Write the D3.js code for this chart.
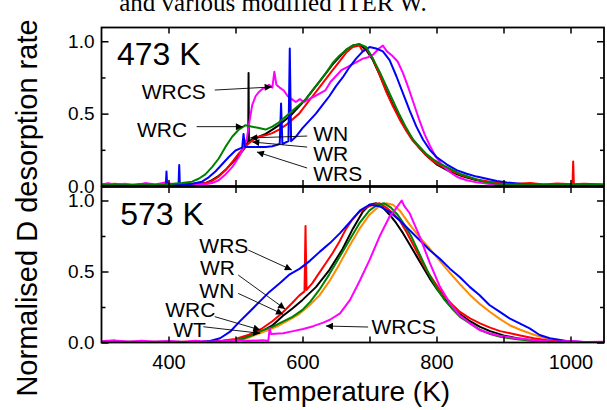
<!DOCTYPE html>
<html>
<head>
<meta charset="utf-8">
<script src="https://cdn.jsdelivr.net/npm/d3@7"></script>
<style>
  body { margin: 0; background: #fff; }
  svg { display: block; }
</style>
</head>
<body>
<div id="chart"></div>
<script>
'use strict';

// axis ticks
var xTicks = [400, 500, 600, 700, 800, 900, 1000];
var xLabels = [400, 600, 800, 1000];
var yMajor = [0, 0.5, 1.0];
var yMinor = [0.25, 0.75];

// 473 K panel : [temperature (K), normalised D desorption rate]
var top_WN = [[300,0.005],[330,0.01],[360,0.004],[390,0.008],[420,0.01],[440,0.012],[455,0.02],[465,0.04],[475,0.07],[485,0.11],[495,0.16],[505,0.21],[515,0.27],[519,0.31],[519.5,0.78],[520,0.31],[525,0.32],[535,0.34],[545,0.36],[555,0.39],[565,0.42],[575,0.46],[585,0.5],[595,0.55],[605,0.6],[615,0.66],[625,0.72],[635,0.78],[645,0.84],[655,0.89],[665,0.94],[675,0.97],[685,0.98],[695,0.94],[705,0.87],[715,0.77],[725,0.66],[735,0.56],[745,0.47],[755,0.39],[765,0.32],[775,0.26],[785,0.21],[800,0.15],[820,0.1],[840,0.065],[860,0.04],[880,0.025],[900,0.015],[930,0.01],[960,0.008],[1000,0.006],[1050,0.005]];
var top_WR = [[300,0.008],[320,0.015],[340,0.005],[360,0.012],[380,0.006],[400,0.01],[420,0.014],[440,0.008],[455,0.02],[465,0.035],[475,0.065],[485,0.11],[495,0.165],[505,0.225],[515,0.275],[525,0.315],[535,0.34],[545,0.35],[555,0.365],[565,0.39],[575,0.42],[585,0.46],[595,0.5],[605,0.56],[615,0.62],[625,0.68],[635,0.74],[645,0.8],[655,0.86],[665,0.92],[675,0.96],[685,0.97],[690,0.93],[695,0.95],[705,0.88],[715,0.77],[725,0.65],[735,0.55],[745,0.46],[755,0.38],[765,0.31],[775,0.26],[785,0.21],[795,0.17],[810,0.13],[825,0.1],[840,0.07],[860,0.045],[880,0.03],[900,0.02],[920,0.015],[940,0.02],[960,0.01],[980,0.018],[1003,0.012],[1004,0.17],[1005,0.012],[1020,0.015],[1050,0.01]];
var top_WRC = [[300,0.01],[330,0.005],[360,0.012],[390,0.008],[420,0.02],[435,0.03],[445,0.05],[455,0.08],[465,0.13],[475,0.19],[485,0.27],[495,0.34],[505,0.39],[515,0.42],[525,0.41],[535,0.4],[545,0.39],[555,0.41],[565,0.44],[575,0.48],[585,0.52],[595,0.56],[605,0.6],[615,0.66],[625,0.72],[635,0.78],[645,0.85],[655,0.9],[665,0.94],[675,0.97],[685,0.98],[695,0.96],[705,0.88],[715,0.79],[725,0.69],[735,0.59],[745,0.49],[755,0.4],[765,0.32],[775,0.27],[785,0.22],[795,0.185],[805,0.155],[820,0.12],[835,0.085],[850,0.06],[870,0.03],[890,0.016],[910,0.01],[940,0.012],[970,0.008],[1000,0.01],[1030,0.012],[1050,0.01]];
var top_WRS = [[300,0.004],[330,0.003],[360,0.005],[396,0.005],[397,0.1],[398,0.005],[415,0.008],[416,0.145],[417,0.008],[435,0.015],[450,0.03],[460,0.06],[470,0.1],[480,0.15],[490,0.2],[500,0.245],[510,0.265],[512,0.36],[514,0.27],[525,0.27],[535,0.27],[545,0.27],[555,0.275],[566,0.29],[568,0.57],[570,0.29],[579,0.31],[581,0.95],[583,0.31],[590,0.34],[600,0.4],[610,0.45],[620,0.5],[630,0.56],[640,0.62],[650,0.69],[660,0.75],[670,0.82],[680,0.88],[690,0.93],[700,0.96],[710,0.95],[720,0.93],[730,0.87],[740,0.76],[750,0.64],[760,0.52],[770,0.41],[780,0.32],[790,0.25],[800,0.2],[815,0.15],[830,0.11],[845,0.085],[860,0.065],[875,0.05],[890,0.035],[905,0.025],[920,0.018],[940,0.01],[960,0.006],[990,0.004],[1050,0.003]];
var top_WRCS = [[300,0.01],[310,0.02],[320,0.008],[335,0.015],[350,0.005],[365,0.02],[380,0.01],[395,0.025],[410,0.008],[425,0.015],[440,0.01],[455,0.012],[465,0.02],[475,0.04],[485,0.08],[495,0.13],[505,0.2],[512,0.26],[517,0.33],[521,0.45],[525,0.56],[530,0.62],[535,0.65],[540,0.67],[545,0.68],[550,0.7],[555,0.68],[558,0.79],[561,0.7],[566,0.68],[572,0.66],[578,0.62],[584,0.6],[590,0.58],[596,0.6],[602,0.58],[610,0.6],[618,0.62],[626,0.64],[634,0.66],[642,0.72],[650,0.76],[658,0.8],[666,0.82],[674,0.84],[682,0.86],[690,0.88],[698,0.89],[706,0.91],[714,0.95],[720,0.97],[726,0.93],[734,0.9],[742,0.86],[750,0.78],[758,0.68],[766,0.57],[774,0.46],[782,0.36],[790,0.28],[798,0.21],[806,0.16],[814,0.12],[822,0.09],[832,0.06],[845,0.04],[860,0.025],[880,0.014],[900,0.008],[920,0.004],[960,0.003],[1050,0.003]];

// 573 K panel
var bot_WT = [[300,0.003],[400,0.003],[480,0.005],[500,0.012],[520,0.035],[536,0.065],[550,0.09],[565,0.12],[580,0.16],[595,0.2],[610,0.26],[625,0.33],[640,0.43],[655,0.55],[670,0.68],[685,0.8],[700,0.9],[712,0.95],[725,0.98],[735,0.97],[745,0.93],[760,0.83],[775,0.74],[790,0.66],[805,0.575],[820,0.49],[835,0.41],[850,0.335],[865,0.27],[880,0.215],[895,0.165],[910,0.12],[925,0.09],[940,0.063],[955,0.04],[970,0.022],[985,0.01],[1010,0.004],[1050,0.003]];
var bot_WN = [[300,0.003],[450,0.004],[480,0.01],[500,0.02],[520,0.045],[540,0.08],[555,0.12],[570,0.185],[585,0.24],[600,0.3],[620,0.39],[640,0.51],[660,0.66],[675,0.8],[690,0.92],[700,0.97],[710,0.98],[720,0.95],[730,0.9],[740,0.84],[750,0.77],[760,0.69],[770,0.61],[780,0.53],[790,0.45],[800,0.38],[810,0.32],[820,0.26],[835,0.2],[850,0.15],[865,0.11],[880,0.08],[900,0.05],[920,0.03],[945,0.015],[970,0.007],[1000,0.003],[1050,0.003]];
var bot_WR = [[300,0.005],[450,0.005],[480,0.012],[500,0.025],[520,0.055],[540,0.1],[555,0.15],[570,0.21],[585,0.28],[595,0.33],[603,0.36],[604.5,0.82],[606,0.37],[615,0.42],[625,0.49],[635,0.56],[645,0.63],[655,0.71],[665,0.8],[675,0.87],[685,0.92],[695,0.95],[705,0.97],[715,0.98],[725,0.95],[735,0.91],[745,0.86],[755,0.78],[765,0.69],[775,0.6],[785,0.51],[795,0.44],[805,0.37],[815,0.31],[825,0.26],[835,0.215],[850,0.17],[865,0.135],[880,0.105],[895,0.08],[910,0.065],[925,0.05],[945,0.03],[970,0.013],[1000,0.005],[1050,0.004]];
var bot_WRC = [[300,0.004],[450,0.004],[490,0.01],[510,0.025],[525,0.05],[540,0.085],[555,0.11],[570,0.145],[585,0.18],[600,0.23],[612,0.29],[625,0.37],[640,0.48],[655,0.6],[670,0.72],[685,0.84],[700,0.93],[712,0.97],[722,0.98],[732,0.95],[742,0.9],[752,0.83],[762,0.75],[772,0.65],[782,0.55],[792,0.45],[802,0.37],[812,0.3],[822,0.245],[835,0.18],[850,0.135],[865,0.09],[880,0.06],[895,0.04],[920,0.022],[945,0.01],[970,0.005],[1050,0.004]];
var bot_WRS = [[300,0.004],[330,0.006],[360,0.003],[400,0.005],[430,0.004],[450,0.006],[462,0.01],[477,0.03],[492,0.076],[506,0.147],[521,0.217],[536,0.288],[551,0.358],[566,0.417],[581,0.48],[596,0.52],[611,0.575],[626,0.64],[641,0.7],[656,0.77],[671,0.85],[686,0.93],[700,0.97],[715,0.96],[730,0.92],[745,0.86],[760,0.79],[775,0.72],[790,0.65],[805,0.59],[820,0.52],[835,0.46],[850,0.39],[864,0.335],[879,0.264],[894,0.217],[909,0.17],[924,0.135],[939,0.1],[954,0.053],[969,0.03],[994,0.01],[1020,0.004],[1050,0.003]];
var bot_WRCS = [[300,0.008],[320,0.015],[340,0.005],[360,0.012],[380,0.006],[400,0.01],[420,0.004],[440,0.012],[460,0.006],[480,0.01],[500,0.015],[520,0.012],[540,0.015],[549,0.012],[551,0.1],[553,0.06],[571,0.065],[586,0.08],[601,0.095],[616,0.115],[631,0.14],[641,0.16],[656,0.205],[671,0.3],[686,0.44],[700,0.58],[715,0.746],[730,0.887],[740,0.946],[748,1.0],[752,0.96],[760,0.91],[775,0.746],[790,0.56],[805,0.394],[820,0.276],[834,0.194],[850,0.135],[864,0.088],[879,0.065],[894,0.048],[919,0.03],[944,0.018],[974,0.006],[1000,0.01],[1020,0.004],[1050,0.006]];

// series in drawing order
var topSeries = [
    {name: 'WN',   color: '#000000', values: top_WN},
    {name: 'WR',   color: '#ff0000', values: top_WR},
    {name: 'WRCS', color: '#ff00ff', values: top_WRCS},
    {name: 'WRS',  color: '#0000ff', values: top_WRS},
    {name: 'WRC',  color: '#008000', values: top_WRC}
];
var botSeries = [
    {name: 'WN',   color: '#000000', values: bot_WN},
    {name: 'WT',   color: '#ff8c00', values: bot_WT},
    {name: 'WR',   color: '#ff0000', values: bot_WR},
    {name: 'WRC',  color: '#008000', values: bot_WRC},
    {name: 'WRS',  color: '#0000ff', values: bot_WRS},
    {name: 'WRCS', color: '#ff00ff', values: bot_WRCS}
];

// annotations in data units: label at [T, v], arrow from -> to
var topNotes = [
    {text: 'WRCS', at: [360, 0.601], from: [469, 0.663], to: [554, 0.684]},
    {text: 'WRC',  at: [353, 0.338], from: [442, 0.41],  to: [511, 0.41]},
    {text: 'WN',   at: [616, 0.313], from: [607, 0.345], to: [522, 0.332]},
    {text: 'WR',   at: [616, 0.175], from: [607, 0.269], to: [525, 0.304]},
    {text: 'WRS',  at: [616, 0.035], from: [607, 0.124], to: [532, 0.235]}
];
var botNotes = [
    {text: 'WRS',  at: [446, 0.628], from: [519, 0.651], to: [584, 0.511]},
    {text: 'WR',   at: [447, 0.475], from: [504, 0.475], to: [574, 0.236]},
    {text: 'WN',   at: [446, 0.315], from: [504, 0.346], to: [571, 0.199]},
    {text: 'WRC',  at: [395, 0.182], from: [469, 0.182], to: [537, 0.088]},
    {text: 'WT',   at: [407, 0.041], from: [452, 0.111], to: [537, 0.065]},
    {text: 'WRCS', at: [703, 0.06],  from: [698, 0.109], to: [635, 0.116]}
];

//configuration
var config = {};
config.width      = 607;
config.height     = 410;
config.xDomain    = [300, 1050];
config.xRange     = [101.5, 604];
config.yMax       = 1.095;
config.font       = "'Liberation Sans', Arial, sans-serif";

var svg = d3.select('#chart')
    .append('svg')
    .attr('width', config.width)
    .attr('height', config.height);

// marker for the arrows
svg.append('defs')
    .append('marker')
    .attr('id', 'head')
    .attr('markerUnits', 'userSpaceOnUse')
    .attr('viewBox', '0 0 10 10')
    .attr('refX', 10)
    .attr('refY', 5)
    .attr('markerWidth', 9)
    .attr('markerHeight', 7)
    .attr('orient', 'auto')
    .append('path')
    .attr('d', 'M0,0L10,5L0,10z')
    .attr('fill', '#000');

var x = d3.scaleLinear().domain(config.xDomain).range(config.xRange);

// title line cut off at the top of the figure
svg.append('text')
    .attr('x', 273)
    .attr('y', 11)
    .attr('text-anchor', 'middle')
    .style('font-family', "'Liberation Serif', 'Times New Roman', serif")
    .style('font-size', '25px')
    .text('and various modified ITER W.');

function drawPanel(top, bottom, series, notes, title, titlePos, idx) {
    var y = d3.scaleLinear().domain([0, config.yMax]).range([bottom, top]);
    var g = svg.append('g');

    g.append('clipPath')
        .attr('id', 'clip' + idx)
        .append('rect')
        .attr('x', config.xRange[0])
        .attr('y', top)
        .attr('width', config.xRange[1] - config.xRange[0])
        .attr('height', bottom - top);

    var line = d3.line()
        .x(function(d){ return x(d[0]); })
        .y(function(d){ return y(d[1]); });

    g.append('g')
        .attr('clip-path', 'url(#clip' + idx + ')')
        .selectAll('path')
        .data(series)
        .enter()
            .append('path')
            .attr('fill', 'none')
            .attr('stroke', function(d){ return d.color; })
            .attr('stroke-width', 2)
            .attr('stroke-linejoin', 'round')
            .attr('d', function(d){ return line(d.values); });

    // inward ticks on all four sides
    var axes = [
        {ax: d3.axisBottom(x).tickValues(xTicks).tickSize(-6), t: 'translate(0,' + bottom + ')'},
        {ax: d3.axisTop(x).tickValues(xTicks).tickSize(-6), t: 'translate(0,' + top + ')'},
        {ax: d3.axisLeft(y).tickValues(yMajor).tickSize(-7), t: 'translate(' + config.xRange[0] + ',0)'},
        {ax: d3.axisLeft(y).tickValues(yMinor).tickSize(-4), t: 'translate(' + config.xRange[0] + ',0)'},
        {ax: d3.axisRight(y).tickValues(yMajor).tickSize(-7), t: 'translate(' + config.xRange[1] + ',0)'},
        {ax: d3.axisRight(y).tickValues(yMinor).tickSize(-4), t: 'translate(' + config.xRange[1] + ',0)'}
    ];
    axes.forEach(function(a){
        var ga = g.append('g')
            .attr('transform', a.t)
            .call(a.ax.tickFormat(''));
        ga.select('.domain').remove();
        ga.selectAll('line').attr('stroke', '#000').attr('stroke-width', 1.5);
    });

    // y tick labels
    var yl = g.append('g')
        .attr('transform', 'translate(' + config.xRange[0] + ',0)')
        .call(d3.axisLeft(y).tickValues(yMajor).tickSize(0).tickPadding(7).tickFormat(d3.format('.1f')));
    yl.select('.domain').remove();
    yl.selectAll('text')
        .attr('fill', '#000')
        .style('font-family', config.font)
        .style('font-size', '19px');

    // frame
    g.append('rect')
        .attr('x', config.xRange[0])
        .attr('y', top)
        .attr('width', config.xRange[1] - config.xRange[0])
        .attr('height', bottom - top)
        .attr('fill', 'none')
        .attr('stroke', '#000')
        .attr('stroke-width', 1.8);

    g.append('text')
        .attr('x', x(titlePos[0]))
        .attr('y', y(titlePos[1]))
        .style('font-family', config.font)
        .style('font-size', '32px')
        .text(title);

    // labels with arrows
    var n = g.selectAll('.note')
        .data(notes)
        .enter()
        .append('g')
        .attr('class', 'note');
    n.append('line')
        .attr('x1', function(d){ return x(d.from[0]); })
        .attr('y1', function(d){ return y(d.from[1]); })
        .attr('x2', function(d){ return x(d.to[0]); })
        .attr('y2', function(d){ return y(d.to[1]); })
        .attr('stroke', '#000')
        .attr('stroke-width', 0.9)
        .attr('marker-end', 'url(#head)');
    n.append('text')
        .attr('x', function(d){ return x(d.at[0]); })
        .attr('y', function(d){ return y(d.at[1]); })
        .style('font-family', config.font)
        .style('font-size', '21px')
        .text(function(d){ return d.text; });

    return y;
}

drawPanel(27.5, 186, topSeries, topNotes, '473 K', [323, 0.836], 0);
drawPanel(187, 342.5, botSeries, botNotes, '573 K', [328, 0.827], 1);

// x tick labels under the lower panel
var xl = svg.append('g')
    .attr('transform', 'translate(0,342.5)')
    .call(d3.axisBottom(x).tickValues(xLabels).tickSize(0).tickPadding(12.5).tickFormat(d3.format('d')));
xl.select('.domain').remove();
xl.selectAll('text')
    .attr('fill', '#000')
    .style('font-family', config.font)
    .style('font-size', '20px');

svg.append('text')
    .attr('x', 349)
    .attr('y', 401)
    .attr('text-anchor', 'middle')
    .style('font-family', config.font)
    .style('font-size', '28px')
    .text('Temperature (K)');

svg.append('text')
    .attr('transform', 'translate(37,208) rotate(-90)')
    .attr('text-anchor', 'middle')
    .style('font-family', config.font)
    .style('font-size', '29px')
    .text('Normalised D desorption rate');
</script>
</body>
</html>
